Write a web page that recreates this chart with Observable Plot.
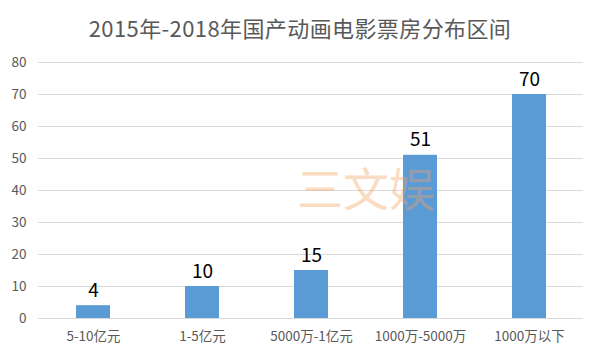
<!DOCTYPE html>
<html>
<head>
<meta charset="utf-8">
<script src="https://cdn.jsdelivr.net/npm/d3@7"></script>
<script src="https://cdn.jsdelivr.net/npm/@observablehq/plot@0.6"></script>
<style>
  body { margin: 0; background: #fff; font-family: "Noto Sans CJK SC", "Noto Sans", sans-serif; }
  #title { height: 50px; line-height: 54px; text-align: center; font-size: 22px; color: #595959; letter-spacing: 0.4px; }
</style>
</head>
<body>
<div id="title">2015年-2018年国产动画电影票房分布区间</div>
<div id="chart"></div>
<script>
const categories = ["5-10亿元", "1-5亿元", "5000万-1亿元", "1000万-5000万", "1000万以下"];
const counts = [4, 10, 15, 51, 70];
const yTicks = [0, 10, 20, 30, 40, 50, 60, 70, 80];
const watermark = ["三文娱"];

const data = categories.map((c, i) => ({category: c, count: counts[i]}));

const chart = Plot.plot({
  width: 600,
  height: 310,
  marginTop: 12,
  marginBottom: 42,
  marginLeft: 38,
  marginRight: 17,
  style: { fontFamily: '"Noto Sans CJK SC", "Noto Sans", sans-serif', fontSize: "13.5px", color: "#595959", background: "#fff" },
  x: { domain: categories, paddingInner: 0.69, paddingOuter: 0.345, label: null, tickSize: 0, tickPadding: 13 },
  y: { domain: [0, 80], ticks: yTicks, label: null, tickSize: 0, tickPadding: 12 },
  marks: [
    Plot.gridY(yTicks, { stroke: "#d9d9d9", strokeOpacity: 1 }),
    Plot.barY(data, { x: "category", y: "count", fill: "#5b9bd5" }),
    Plot.text(watermark, { frameAnchor: "middle", dx: 55, dy: 1, text: d => d, fontSize: 46, fill: "#f4a261", fillOpacity: 0.4, letterSpacing: "4px" }),
    Plot.text(data, { x: "category", y: "count", text: d => String(d.count), dy: -15, fontSize: 19, fill: "#000", letterSpacing: "2px" })
  ]
});
document.getElementById("chart").appendChild(chart);
</script>
</body>
</html>
